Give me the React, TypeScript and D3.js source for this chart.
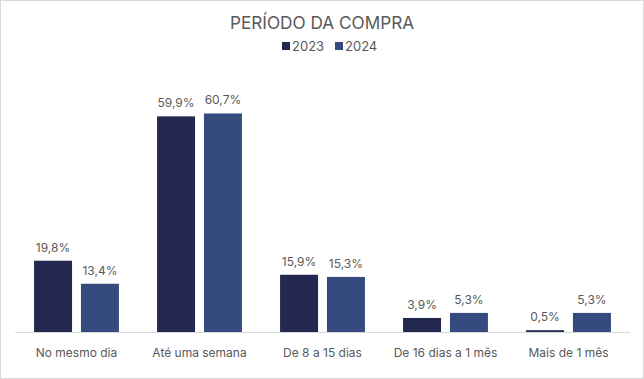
import React from "react";
import * as d3 from "d3";

const categories = ["No mesmo dia", "Até uma semana", "De 8 a 15 dias", "De 16 dias a 1 mês", "Mais de 1 mês"];
const series = ["2023", "2024"];
const values2023 = [19.8, 59.9, 15.9, 3.9, 0.5];
const values2024 = [13.4, 60.7, 15.3, 5.3, 5.3];
const colors = ["#232851", "#354b7d"];

const W = 644, H = 379;
const FONT = "Inter, 'Open Sans', sans-serif";

export default function App() {
  const x0 = d3.scaleBand().domain(categories).range([15, 630]).paddingInner(0.31).paddingOuter(0.155);
  const x1 = d3.scaleBand().domain(series).range([0, x0.bandwidth()]).paddingInner(0.19);
  const y = d3.scaleLinear().domain([0, 60]).range([332, 116]);
  const data = [values2023, values2024];
  const fmt = (v: number) => v.toFixed(1).replace(".", ",") + "%";
  return (
    <svg width={W} height={H} style={{ position: "absolute", left: 0, top: 0 }} fontFamily={FONT}>
      <rect x={0.5} y={0.5} width={W - 1} height={H - 1} fill="#fff" stroke="#d9d9d9" />
      <text x={322} y={29} textAnchor="middle" fontSize={17.2} fill="#595959">PERÍODO DA COMPRA</text>
      {series.map((s, i) => {
        const lx = 282 + i * 53;
        return (
          <g key={s}>
            <rect x={lx} y={42} width={8} height={8} fill={colors[i]} />
            <text x={lx + 10} y={50.5} fontSize={13} fill="#595959">{s}</text>
          </g>
        );
      })}
      {categories.map((c, ci) => (
        <g key={c} transform={`translate(${x0(c)},0)`}>
          {series.map((s, si) => {
            const v = data[si][ci];
            const bx = x1(s)!;
            return (
              <g key={s}>
                <rect x={bx} y={y(v)} width={x1.bandwidth()} height={332 - y(v)} fill={colors[si]} />
                <text x={bx + x1.bandwidth() / 2} y={y(v) - 9} textAnchor="middle" fontSize={12} fill="#595959">{fmt(v)}</text>
              </g>
            );
          })}
          <text x={x0.bandwidth() / 2} y={357} textAnchor="middle" fontSize={12} fill="#595959">{c}</text>
        </g>
      ))}
      <line x1={15} x2={630} y1={332.5} y2={332.5} stroke="#d9d9d9" />
    </svg>
  );
}
